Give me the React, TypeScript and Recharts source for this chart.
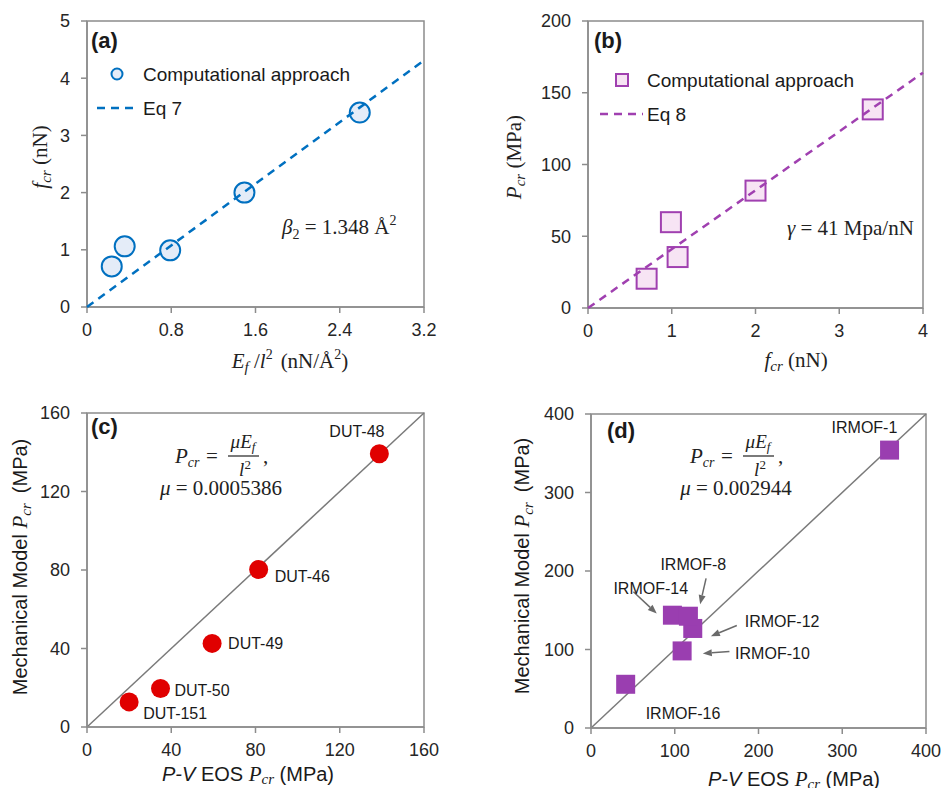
import React from 'react'
import { ScatterChart, Scatter, XAxis, YAxis, ReferenceArea, ReferenceLine } from 'recharts'

const SANS = '"Liberation Sans", Arial, sans-serif'
const SERIF = '"Liberation Serif", "Times New Roman", serif'
const AXIS = '#8c8c8c'
const INK = '#262626'
const Y_W = 50
const X_H = 40

// (a) f_cr vs E_f/l^2
const aEfl2 = [0.235, 0.358, 0.79, 1.495, 2.59]
const aFcr = [0.71, 1.06, 0.99, 2.0, 3.4]
const aEq7X = [0, 3.2]
const aEq7Y = [0, 4.31]
const aTicksX = [0, 0.8, 1.6, 2.4, 3.2]
const aTicksY = [0, 1, 2, 3, 4, 5]

// (b) P_cr vs f_cr
const bFcr = [0.7, 0.99, 1.07, 2.0, 3.4]
const bPcr = [20.4, 59.8, 35.5, 81.8, 138.4]
const bEq8X = [0, 4]
const bEq8Y = [0, 164]
const bTicksX = [0, 1, 2, 3, 4]
const bTicksY = [0, 50, 100, 150, 200]

// (c) DUT series
const dutNames = ['DUT-151', 'DUT-50', 'DUT-49', 'DUT-46', 'DUT-48']
const dutEos = [20, 34.9, 59.4, 81.5, 138.8]
const dutModel = [12.8, 19.6, 42.6, 80.3, 139.2]
const cTicks = [0, 40, 80, 120, 160]

// (d) IRMOF series
const irmofNames = ['IRMOF-16', 'IRMOF-10', 'IRMOF-12', 'IRMOF-14', 'IRMOF-8', 'IRMOF-1']
const irmofEos = [41.4, 108.8, 121.5, 97.2, 116.3, 356.5]
const irmofModel = [55.7, 98.2, 126.8, 143.7, 142.4, 354]
const dTicks = [0, 100, 200, 300, 400]

// label placement (px offset from point centre)
const dutLabelOffset: Record<string, [number, number]> = {
  'DUT-151': [14, 11],
  'DUT-50': [14, 1],
  'DUT-49': [16, 0],
  'DUT-46': [16, 7],
  'DUT-48': [-50, -23],
}
const irmofLabelOffset: Record<string, [number, number]> = {
  'IRMOF-16': [20, 29],
  'IRMOF-10': [53, 2],
  'IRMOF-12': [52, -7],
  'IRMOF-14': [-59, -27],
  'IRMOF-8': [-28, -52],
  'IRMOF-1': [-58, -23],
}
// arrows for the crowded IRMOF labels, in data units
const irmofArrows = [
  { x1: 50.6, y1: 173.5, x2: 78.5, y2: 145.9 },
  { x1: 137.4, y1: 190.6, x2: 130.3, y2: 157.8 },
  { x1: 174.1, y1: 130.6, x2: 143.1, y2: 117 },
  { x1: 165.3, y1: 97.4, x2: 133.5, y2: 94.9 },
]

const zip = (xs: number[], ys: number[], names?: string[]) =>
  xs.map((x, i) => ({ x, y: ys[i], name: names ? names[i] : '' }))

const tickStyle = { fill: INK, fontSize: 18, fontFamily: SANS }

// plot = [left, top, right, bottom] of the plotting area inside the panel
function Panel({ left, top, width, height, plot, xTicks, yTicks, children, overlay }: any) {
  const xMax = xTicks[xTicks.length - 1]
  const yMax = yTicks[yTicks.length - 1]
  const margin = {
    left: plot[0] - Y_W,
    top: plot[1],
    right: width - plot[2],
    bottom: height - plot[3] - X_H,
  }
  return (
    <div style={{ position: 'absolute', left, top, width, height }}>
      <ScatterChart width={width} height={height} margin={margin}>
        <XAxis
          type="number"
          dataKey="x"
          domain={[0, xMax]}
          ticks={xTicks}
          interval={0}
          height={X_H}
          tickSize={6}
          tickMargin={10}
          stroke={AXIS}
          strokeWidth={1.5}
          tick={tickStyle}
        />
        <YAxis
          type="number"
          dataKey="y"
          domain={[0, yMax]}
          ticks={yTicks}
          interval={0}
          width={Y_W}
          tickSize={6}
          tickMargin={11}
          stroke={AXIS}
          strokeWidth={1.5}
          tick={tickStyle}
        />
        <ReferenceArea x1={0} x2={xMax} y1={0} y2={yMax} fill="none" fillOpacity={0} stroke={AXIS} strokeWidth={1.5} />
        {children}
      </ScatterChart>
      <svg width={width} height={height} style={{ position: 'absolute', left: 0, top: 0, pointerEvents: 'none' }}>
        {overlay}
      </svg>
    </div>
  )
}

function Tag({ x, y, children }: any) {
  return (
    <text x={x} y={y} fontFamily={SANS} fontWeight="bold" fontSize={22} fill="#1a1a1a">
      {children}
    </text>
  )
}

function PcrEquation({ x, y, mu }: { x: number; y: number; mu: string }) {
  return (
    <g fontFamily={SERIF} fontSize={21} fill="#222">
      <text x={x} y={y}>
        <tspan fontStyle="italic">P</tspan>
        <tspan fontStyle="italic" fontSize={14} dy={4}>cr</tspan>
      </text>
      <text x={x + 31} y={y}>=</text>
      <text x={x + 68} y={y - 15} textAnchor="middle" fontSize={19}>
        <tspan fontStyle="italic">μE</tspan>
        <tspan fontStyle="italic" fontSize={13} dy={3}>f</tspan>
      </text>
      <line x1={x + 53} x2={x + 84} y1={y - 7} y2={y - 7} stroke="#222" strokeWidth={1.2} />
      <text x={x + 70} y={y + 13} textAnchor="middle" fontSize={19}>
        <tspan fontStyle="italic">l</tspan>
        <tspan fontSize={13} dy={-7}>2</tspan>
      </text>
      <text x={x + 88} y={y}>,</text>
      <text x={x + 46} y={y + 32} textAnchor="middle">
        <tspan fontStyle="italic">μ</tspan>
        <tspan> = {mu}</tspan>
      </text>
    </g>
  )
}

const eqLine = (color: string) => ({ stroke: color, strokeWidth: 2.5, strokeDasharray: '8 6' })
const noMark = () => <g />

export default function App() {
  const aPts = zip(aEfl2, aFcr)
  const bPts = zip(bFcr, bPcr)
  const cPts = zip(dutEos, dutModel, dutNames)
  const dPts = zip(irmofEos, irmofModel, irmofNames)
  const blue = '#0070c0'
  const purple = '#a040b0'
  const red = '#e00000'
  const violet = '#9a3eb0'

  return (
    <div style={{ position: 'absolute', left: 0, top: 0, width: 941, height: 788, background: '#fff', overflow: 'hidden' }}>
      {/* (a) */}
      <Panel
        left={0}
        top={0}
        width={470}
        height={400}
        plot={[87, 21, 424, 307]}
        xTicks={aTicksX}
        yTicks={aTicksY}
        overlay={
          <g>
            <Tag x={91} y={48}>(a)</Tag>
            <circle cx={117} cy={74} r={5.5} fill="#e4ecf8" stroke={blue} strokeWidth={2} />
            <text x={143} y={81} fontFamily={SANS} fontSize={19} fill="#1a1a1a">Computational approach</text>
            <line x1={97} x2={138} y1={108} y2={108} stroke={blue} strokeWidth={2.5} strokeDasharray="8 6" />
            <text x={143} y={115} fontFamily={SANS} fontSize={19} fill="#1a1a1a">Eq 7</text>
            <text x={282} y={234} fontFamily={SERIF} fontSize={21} fill="#222">
              <tspan fontStyle="italic">β</tspan>
              <tspan fontSize={14} dy={5}>2</tspan>
              <tspan dy={-5}> = 1.348 Å</tspan>
              <tspan fontSize={14} dy={-9}>2</tspan>
            </text>
            <text transform="rotate(-90 40 157)" x={40} y={164} textAnchor="middle" fontFamily={SERIF} fontSize={21} fill="#222">
              <tspan fontStyle="italic">f</tspan>
              <tspan fontStyle="italic" fontSize={15} dy={4}>cr</tspan>
              <tspan dy={-4}> (nN)</tspan>
            </text>
            <text x={290} y={368} textAnchor="middle" fontFamily={SERIF} fontSize={21} fill="#222">
              <tspan fontStyle="italic">E</tspan>
              <tspan fontStyle="italic" fontSize={15} dy={4}>f</tspan>
              <tspan dy={-4}> /</tspan>
              <tspan fontStyle="italic">l</tspan>
              <tspan fontSize={14} dy={-9}>2</tspan>
              <tspan dy={9} dx={8}>(nN/Å</tspan>
              <tspan fontSize={14} dy={-9}>2</tspan>
              <tspan dy={9}>)</tspan>
            </text>
          </g>
        }
      >
        <Scatter
          data={aPts}
          isAnimationActive={false}
          shape={(p: any) => <circle cx={p.cx} cy={p.cy} r={10} fill="#e4ecf8" stroke={blue} strokeWidth={2} />}
        />
        <Scatter
          data={zip(aEq7X, aEq7Y)}
          isAnimationActive={false}
          line={eqLine(blue)}
          shape={noMark}
        />
      </Panel>

      {/* (b) */}
      <Panel
        left={470}
        top={0}
        width={471}
        height={400}
        plot={[118, 21, 453, 308]}
        xTicks={bTicksX}
        yTicks={bTicksY}
        overlay={
          <g>
            <Tag x={124} y={48}>(b)</Tag>
            <rect x={146} y={74} width={12} height={12} fill="#f7e4f4" stroke={purple} strokeWidth={2} />
            <text x={177} y={87} fontFamily={SANS} fontSize={19} fill="#1a1a1a">Computational approach</text>
            <line x1={130} x2={173} y1={114} y2={114} stroke={purple} strokeWidth={2.5} strokeDasharray="8 6" />
            <text x={177} y={121} fontFamily={SANS} fontSize={19} fill="#1a1a1a">Eq 8</text>
            <text x={317} y={235} fontFamily={SERIF} fontSize={21} fill="#222">
              <tspan fontStyle="italic">γ</tspan>
              <tspan> = 41 Mpa/nN</tspan>
            </text>
            <text transform="rotate(-90 44 157)" x={44} y={164} textAnchor="middle" fontFamily={SERIF} fontSize={21} fill="#222">
              <tspan fontStyle="italic">P</tspan>
              <tspan fontStyle="italic" fontSize={15} dy={4}>cr</tspan>
              <tspan dy={-4}> (MPa)</tspan>
            </text>
            <text x={326} y={367} textAnchor="middle" fontFamily={SERIF} fontSize={21} fill="#222">
              <tspan fontStyle="italic">f</tspan>
              <tspan fontStyle="italic" fontSize={15} dy={4}>cr</tspan>
              <tspan dy={-4}> (nN)</tspan>
            </text>
          </g>
        }
      >
        <Scatter
          data={bPts}
          isAnimationActive={false}
          shape={(p: any) => (
            <rect x={p.cx - 10} y={p.cy - 10} width={20} height={20} fill="#f7e4f4" stroke={purple} strokeWidth={2} />
          )}
        />
        <Scatter
          data={zip(bEq8X, bEq8Y)}
          isAnimationActive={false}
          line={eqLine(purple)}
          shape={noMark}
        />
      </Panel>

      {/* (c) */}
      <Panel
        left={0}
        top={400}
        width={470}
        height={388}
        plot={[87, 13, 424, 327]}
        xTicks={cTicks}
        yTicks={cTicks}
        overlay={
          <g>
            <Tag x={91} y={34}>(c)</Tag>
            <PcrEquation x={175} y={63} mu="0.0005386" />
            <text transform="rotate(-90 20 167)" x={20} y={174} textAnchor="middle" fontFamily={SANS} fontSize={20} fill="#1a1a1a">
              <tspan>Mechanical Model </tspan>
              <tspan fontFamily={SERIF} fontStyle="italic" fontSize={21}>P</tspan>
              <tspan fontFamily={SERIF} fontStyle="italic" fontSize={15} dy={4}>cr</tspan>
              <tspan dy={-4} dx={10}>(MPa)</tspan>
            </text>
            <text x={248} y={381} textAnchor="middle" fontFamily={SANS} fontSize={20} fill="#1a1a1a">
              <tspan fontStyle="italic">P-V</tspan>
              <tspan> EOS </tspan>
              <tspan fontFamily={SERIF} fontStyle="italic" fontSize={21}>P</tspan>
              <tspan fontFamily={SERIF} fontStyle="italic" fontSize={15} dy={3}>cr</tspan>
              <tspan dy={-3}> (MPa)</tspan>
            </text>
          </g>
        }
      >
        <ReferenceLine segment={[{ x: 0, y: 0 }, { x: 160, y: 160 }]} stroke="#7a7a7a" strokeWidth={1.5} />
        <Scatter
          data={cPts}
          isAnimationActive={false}
          shape={(p: any) => {
            const off = dutLabelOffset[p.payload.name] || [14, 0]
            return (
              <g>
                <circle cx={p.cx} cy={p.cy} r={9.5} fill={red} />
                <text x={p.cx + off[0]} y={p.cy + off[1] + 6} fontFamily={SANS} fontSize={16} fill="#1a1a1a">
                  {p.payload.name}
                </text>
              </g>
            )
          }}
        />
      </Panel>

      {/* (d) */}
      <Panel
        left={470}
        top={400}
        width={471}
        height={388}
        plot={[121, 14, 456, 328]}
        xTicks={dTicks}
        yTicks={dTicks}
        overlay={
          <g>
            <Tag x={137} y={38}>(d)</Tag>
            <PcrEquation x={220} y={63} mu="0.002944" />
            <text transform="rotate(-90 52 166)" x={52} y={173} textAnchor="middle" fontFamily={SANS} fontSize={20} fill="#1a1a1a">
              <tspan>Mechanical Model </tspan>
              <tspan fontFamily={SERIF} fontStyle="italic" fontSize={21}>P</tspan>
              <tspan fontFamily={SERIF} fontStyle="italic" fontSize={15} dy={4}>cr</tspan>
              <tspan dy={-4} dx={10}>(MPa)</tspan>
            </text>
            <text x={324} y={386} textAnchor="middle" fontFamily={SANS} fontSize={20} fill="#1a1a1a">
              <tspan fontStyle="italic">P-V</tspan>
              <tspan> EOS </tspan>
              <tspan fontFamily={SERIF} fontStyle="italic" fontSize={21}>P</tspan>
              <tspan fontFamily={SERIF} fontStyle="italic" fontSize={15} dy={3}>cr</tspan>
              <tspan dy={-3}> (MPa)</tspan>
            </text>
          </g>
        }
      >
        <ReferenceLine segment={[{ x: 0, y: 0 }, { x: 400, y: 400 }]} stroke="#7a7a7a" strokeWidth={1.5} />
        {irmofArrows.map((a, i) => (
          <ReferenceLine
            key={i}
            segment={[{ x: a.x1, y: a.y1 }, { x: a.x2, y: a.y2 }]}
            stroke="#6a6a6a"
            strokeWidth={1.5}
            shape={(p: any) => {
              const dx = p.x2 - p.x1
              const dy = p.y2 - p.y1
              const len = Math.hypot(dx, dy) || 1
              const ux = dx / len
              const uy = dy / len
              const bx = p.x2 - ux * 9
              const by = p.y2 - uy * 9
              return (
                <g>
                  <line x1={p.x1} y1={p.y1} x2={bx} y2={by} stroke="#6a6a6a" strokeWidth={1.5} />
                  <polygon
                    points={`${p.x2},${p.y2} ${bx - uy * 3.5},${by + ux * 3.5} ${bx + uy * 3.5},${by - ux * 3.5}`}
                    fill="#6a6a6a"
                  />
                </g>
              )
            }}
          />
        ))}
        <Scatter
          data={dPts}
          isAnimationActive={false}
          shape={(p: any) => {
            const off = irmofLabelOffset[p.payload.name] || [14, 0]
            return (
              <g>
                <rect x={p.cx - 9.5} y={p.cy - 9.5} width={19} height={19} fill={violet} />
                <text x={p.cx + off[0]} y={p.cy + off[1] + 6} fontFamily={SANS} fontSize={16} fill="#1a1a1a">
                  {p.payload.name}
                </text>
              </g>
            )
          }}
        />
      </Panel>
    </div>
  )
}
